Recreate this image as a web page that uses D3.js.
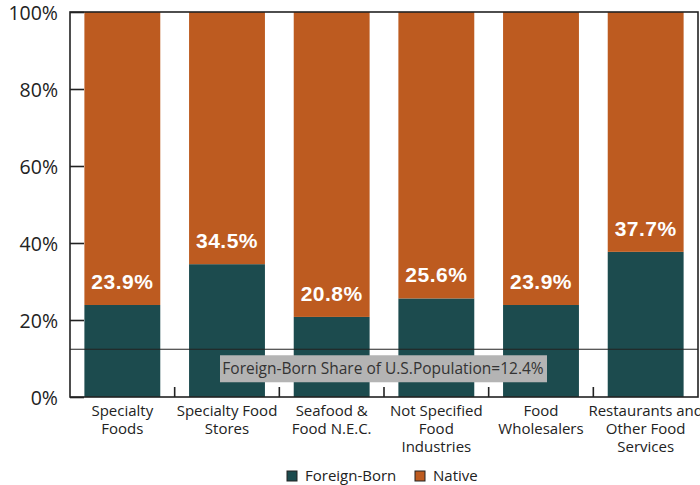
<!DOCTYPE html>
<html>
<head>
<meta charset="utf-8">
<script src="https://cdn.jsdelivr.net/npm/d3@7"></script>
<style>
  body { margin: 0; background: #fff; }
  svg { display: block; }
</style>
</head>
<body>
<div id="chart"></div>
<script>
const categories = [
  ["Specialty", "Foods"],
  ["Specialty Food", "Stores"],
  ["Seafood &", "Food N.E.C."],
  ["Not Specified", "Food", "Industries"],
  ["Food", "Wholesalers"],
  ["Restaurants and", "Other Food", "Services"]
];
const foreignBorn = [23.9, 34.5, 20.8, 25.6, 23.9, 37.7];
const yTicks = [0, 20, 40, 60, 80, 100];
const usShare = 12.4;
const legendKeys = ["Foreign-Born", "Native"];

const width = 700, height = 485;
const margin = {top: 12, right: 2, bottom: 88, left: 70};
const colors = {"Foreign-Born": "#1c4b4e", "Native": "#bd5b20"};
const font = "'Open Sans', 'Noto Sans', sans-serif";

const svg = d3.select("#chart").append("svg")
  .attr("width", width)
  .attr("height", height);

const x = d3.scaleBand()
  .domain(d3.range(categories.length))
  .range([margin.left, width - margin.right])
  .paddingInner(0.275)
  .paddingOuter(0.1375);

const y = d3.scaleLinear()
  .domain([0, 100])
  .range([height - margin.bottom, margin.top]);

// stacked data: foreign-born at bottom, native on top
const data = foreignBorn.map((v, i) => ({i: i, "Foreign-Born": v, "Native": 100 - v}));
const series = d3.stack().keys(legendKeys)(data);

svg.append("g")
  .selectAll("g")
  .data(series)
  .join("g")
  .attr("fill", d => colors[d.key])
  .selectAll("rect")
  .data(d => d)
  .join("rect")
  .attr("x", d => x(d.data.i))
  .attr("width", x.bandwidth())
  .attr("y", d => y(d[1]))
  .attr("height", d => y(d[0]) - y(d[1]));

// value labels
svg.append("g")
  .selectAll("text")
  .data(foreignBorn)
  .join("text")
  .attr("x", (d, i) => x(i) + x.bandwidth() / 2)
  .attr("y", d => y(d) - 16)
  .attr("text-anchor", "middle")
  .attr("fill", "#fff")
  .style("font-family", "'Liberation Sans', Arial, sans-serif")
  .style("font-weight", "bold")
  .style("font-size", "21px")
  .style("letter-spacing", "0.5px")
  .text(d => d.toFixed(1) + "%");

// frame
svg.append("rect")
  .attr("x", margin.left)
  .attr("y", y(100))
  .attr("width", width - margin.right - margin.left)
  .attr("height", y(0) - y(100))
  .attr("fill", "none")
  .attr("stroke", "#222")
  .attr("stroke-width", 1.6);

// y axis
const yAxis = svg.append("g")
  .attr("transform", `translate(${margin.left},0)`)
  .call(d3.axisLeft(y).tickValues(yTicks).tickSize(-14).tickPadding(12)
    .tickFormat(d => d + "%"));
yAxis.select(".domain").remove();
yAxis.selectAll("line").attr("stroke", "#222").attr("stroke-width", 1.6);
yAxis.selectAll("text")
  .style("font-family", font)
  .style("font-size", "19.5px")
  .attr("dy", "0.4em")
  .attr("fill", "#222");

// x axis ticks between bands
const boundaries = d3.range(1, categories.length).map(i => x(i) - x.step() * x.paddingInner() / 2);
svg.append("g")
  .selectAll("line")
  .data(boundaries)
  .join("line")
  .attr("x1", d => d).attr("x2", d => d)
  .attr("y1", y(0)).attr("y2", y(0) - 10)
  .attr("stroke", "#222")
  .attr("stroke-width", 1.6);

// x labels
svg.append("g")
  .selectAll("text")
  .data(categories)
  .join("text")
  .attr("x", (d, i) => x(i) + x.bandwidth() / 2)
  .attr("y", y(0) + 19)
  .attr("text-anchor", "middle")
  .attr("fill", "#222")
  .style("font-family", font)
  .style("font-size", "15px")
  .selectAll("tspan")
  .data(d => d)
  .join("tspan")
  .attr("x", function() { return this.parentNode.getAttribute("x"); })
  .attr("dy", (d, j) => j === 0 ? 0 : 18)
  .text(d => d);

// US population share reference line
svg.append("line")
  .attr("x1", margin.left)
  .attr("x2", width - margin.right)
  .attr("y1", y(usShare))
  .attr("y2", y(usShare))
  .attr("stroke", "#222")
  .attr("stroke-width", 1.2);

const refLabel = svg.append("g");
refLabel.append("rect")
  .attr("x", 220)
  .attr("y", y(usShare) + 6)
  .attr("width", 327)
  .attr("height", 27)
  .attr("fill", "#b4b4b4");
refLabel.append("text")
  .attr("x", 383)
  .attr("y", y(usShare) + 25)
  .attr("text-anchor", "middle")
  .attr("fill", "#333")
  .style("font-family", font)
  .style("font-size", "15.5px")
  .text("Foreign-Born Share of U.S.Population=" + usShare + "%");

// legend
const legend = svg.append("g")
  .attr("transform", "translate(287,471)");
const items = legend.selectAll("g")
  .data(legendKeys)
  .join("g")
  .attr("transform", (d, i) => `translate(${i * 128},0)`);
items.append("rect")
  .attr("width", 10)
  .attr("height", 10)
  .attr("fill", d => colors[d])
  .attr("stroke", "#222")
  .attr("stroke-width", 1);
items.append("text")
  .attr("x", 18)
  .attr("y", 10)
  .attr("fill", "#222")
  .style("font-family", font)
  .style("font-size", "15px")
  .text(d => d);
</script>
</body>
</html>
